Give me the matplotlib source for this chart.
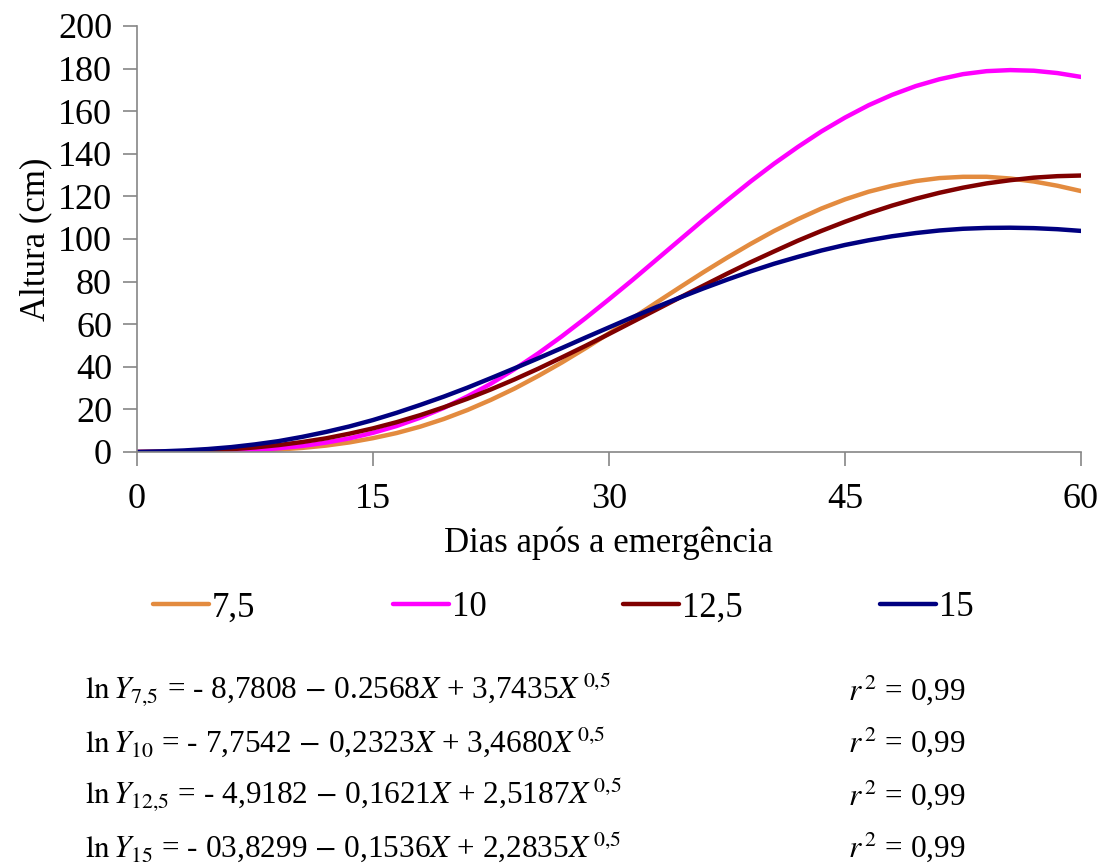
import matplotlib.pyplot as plt
from matplotlib.lines import Line2D

plt.rcParams['font.family'] = ['Liberation Serif', 'DejaVu Serif']
plt.rcParams['mathtext.fontset'] = 'stix'

# dias apos a emergencia
dias = [0, 1.5, 3, 4.5, 6, 7.5, 9, 10.5, 12, 13.5, 15, 16.5, 18, 19.5, 21, 22.5, 24, 25.5,
        27, 28.5, 30, 31.5, 33, 34.5, 36, 37.5, 39, 40.5, 42, 43.5, 45, 46.5, 48, 49.5,
        51, 52.5, 54, 55.5, 57, 58.5, 60]

# altura (cm)
alt_7_5 = [0, 0.01, 0.05, 0.14, 0.32, 0.64, 1.15, 1.92, 3.0, 4.5, 6.5, 8.9, 11.9, 15.5,
           19.7, 24.5, 29.8, 35.7, 42.0, 48.7, 55.7, 62.8, 70.1, 77.3, 84.4, 91.2, 97.7,
           103.8, 109.3, 114.3, 118.6, 122.2, 125.0, 127.2, 128.6, 129.2, 129.2, 128.4,
           127.0, 125.0, 122.5]
alt_10 = [0, 0.02, 0.09, 0.24, 0.52, 1.0, 1.75, 2.84, 4.4, 6.4, 9.0, 12.2, 16.1, 20.7,
          26.1, 32.1, 38.9, 46.3, 54.3, 62.8, 71.7, 80.8, 90.2, 99.6, 109.0, 118.1, 127.0,
          135.4, 143.2, 150.5, 157.0, 162.8, 167.7, 171.8, 175.0, 177.4, 178.8, 179.3,
          179.0, 177.9, 176.1]
alt_12_5 = [0, 0.13, 0.35, 0.74, 1.32, 2.15, 3.25, 4.67, 6.4, 8.6, 11.1, 14.0, 17.3, 21.0,
            25.0, 29.4, 34.1, 39.1, 44.4, 49.8, 55.4, 61.1, 66.8, 72.5, 78.1, 83.7, 89.1,
            94.2, 99.2, 103.8, 108.1, 112.1, 115.7, 118.9, 121.7, 124.1, 126.1, 127.6,
            128.8, 129.5, 129.8]
alt_15 = [0, 0.28, 0.72, 1.38, 2.3, 3.57, 5.1, 7.1, 9.4, 12.0, 15.0, 18.4, 22.1, 26.0,
          30.2, 34.7, 39.3, 44.0, 48.8, 53.7, 58.5, 63.3, 68.0, 72.5, 76.8, 80.9, 84.8,
          88.4, 91.6, 94.6, 97.2, 99.4, 101.3, 102.8, 104.0, 104.8, 105.2, 105.3, 105.1,
          104.6, 103.8]

series = [("7,5", alt_7_5, "#E38B3F"),
          ("10", alt_10, "#FF00FF"),
          ("12,5", alt_12_5, "#800000"),
          ("15", alt_15, "#000080")]

# inicio de cada item da legenda (px)
leg_x = [153, 393, 623, 880]

equacoes = [
    r"$\mathrm{ln}\,Y_{7{,}5}$ = - 8,7808 $-$ 0.2568$X$ + 3,7435$X^{\,0{,}5}$",
    r"$\mathrm{ln}\,Y_{10}$ = - 7,7542 $-$ 0,2323$X$ + 3,4680$X^{\,0{,}5}$",
    r"$\mathrm{ln}\,Y_{12{,}5}$ = - 4,9182 $-$ 0,1621$X$ + 2,5187$X^{\,0{,}5}$",
    r"$\mathrm{ln}\,Y_{15}$ = - 03,8299 $-$ 0,1536$X$ + 2,2835$X^{\,0{,}5}$",
]

W, H = 1103, 863
fig = plt.figure(figsize=(W / 100, H / 100), dpi=100)
ax = fig.add_axes([137 / W, 1 - 452 / H, (1081 - 137) / W, (452 - 26) / H])

for nome, y, cor in series:
    ax.plot(dias, y, color=cor, lw=3.2, label=nome, solid_capstyle='round')

ax.set_xlim(0, 60)
ax.set_ylim(0, 200)
ax.set_xticks([0, 15, 30, 45, 60])
ax.set_yticks(range(0, 201, 20))
for s in ['top', 'right']:
    ax.spines[s].set_visible(False)
for s in ['left', 'bottom']:
    ax.spines[s].set_color('#868686')
    ax.spines[s].set_linewidth(1.2)
ax.tick_params(axis='both', direction='out', length=10, width=1.2, color='#868686',
               labelsize=26, pad=8)
ax.tick_params(axis='x', pad=12)
ax.set_xlabel("Dias após a emergência", fontsize=25, labelpad=8)
ax.set_ylabel("Altura (cm)", fontsize=25, labelpad=4)

for (nome, y, cor), x0 in zip(series, leg_x):
    h = Line2D([], [], color=cor, lw=3.2, solid_capstyle='round')
    lg = fig.legend([h], [nome], loc='center left', bbox_to_anchor=(x0 / W, 1 - 608 / H),
                    frameon=False, fontsize=25, handlelength=1.6, handletextpad=0.1,
                    borderaxespad=0, borderpad=0)

for i, eq in enumerate(equacoes):
    yy = 1 - (690 + i * 52.5) / H
    fig.text(85 / W, yy, eq, fontsize=22.5, va='center', ha='left')
    fig.text(848 / W, yy, r"$r^{\,2}$ = 0,99", fontsize=22.5, va='center', ha='left')

fig.savefig("out.png", dpi=100)
